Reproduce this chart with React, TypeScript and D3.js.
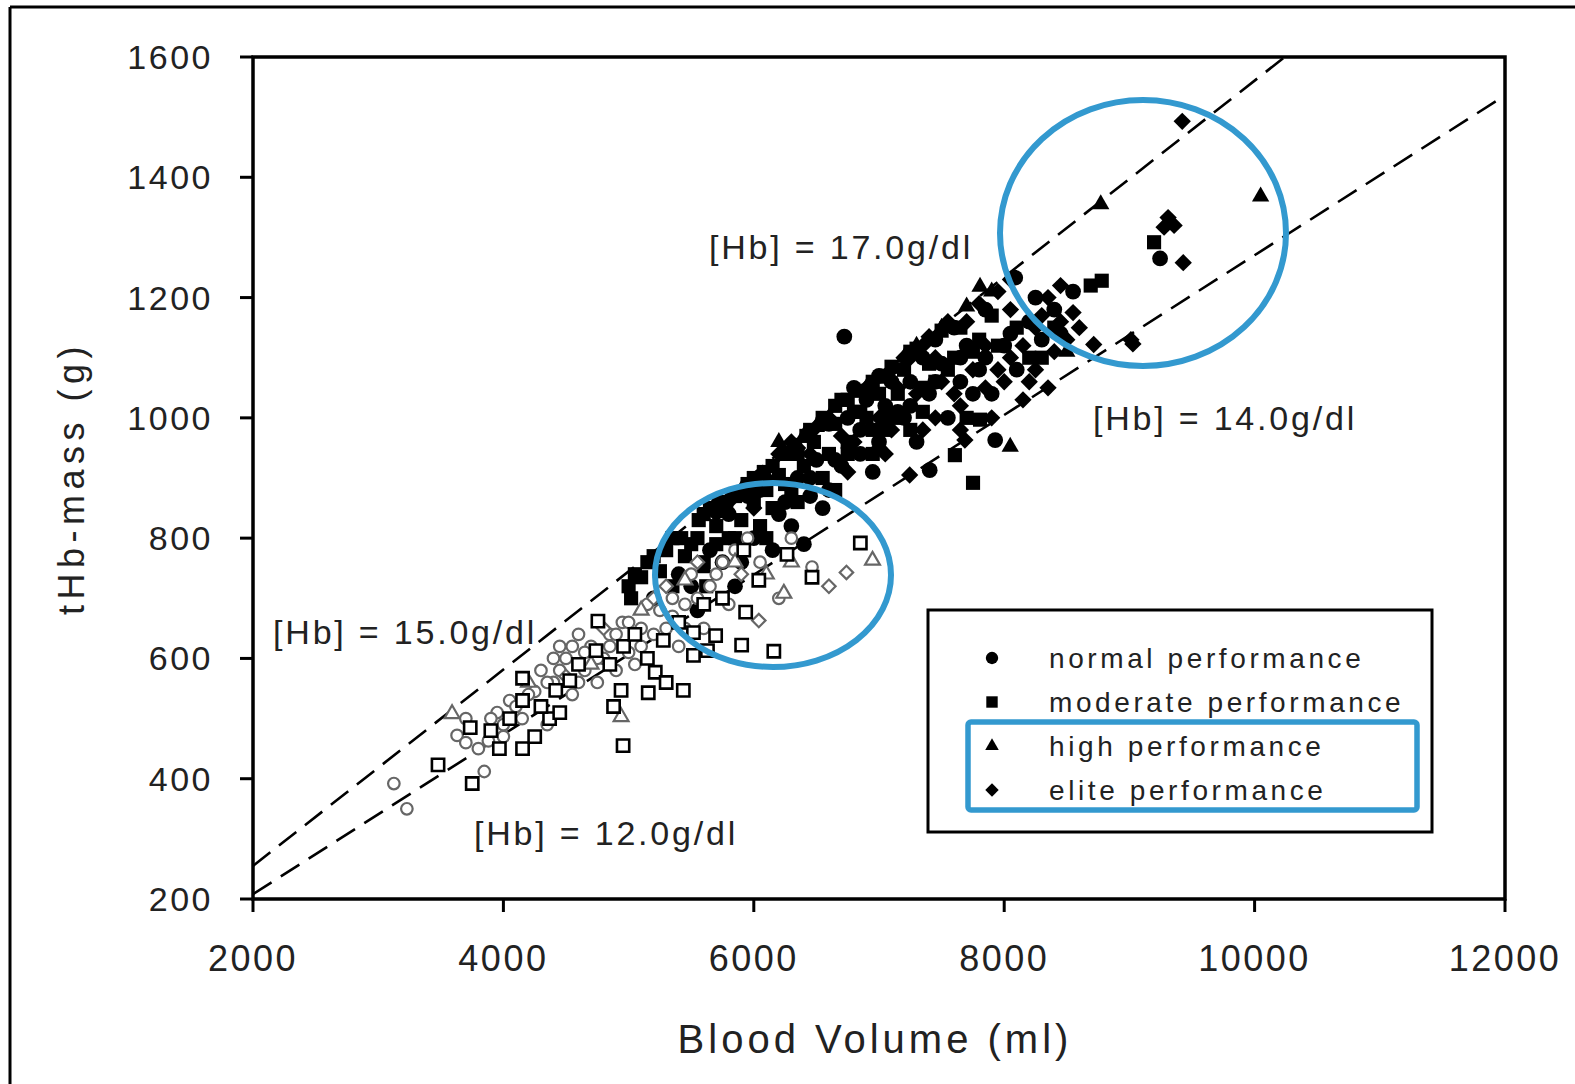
import React from "react";
import * as d3 from "d3";

// ---------- data ----------
const xTicks = [2000, 4000, 6000, 8000, 10000, 12000];
const yTicks = [200, 400, 600, 800, 1000, 1200, 1400, 1600];

// filled symbols (men)
const normalPts: [number, number][] = [
  [5200, 700], [5400, 740], [5500, 720], [5650, 780], [5750, 760], [5900, 760], [6000, 800], [6150, 780],
  [6200, 840], [6300, 820], [6350, 900], [6450, 870], [6500, 930], [6600, 880], [6700, 920], [6723, 1135],
  [6750, 1000], [6850, 940], [6900, 1030], [7000, 960], [7050, 1020], [7100, 1060], [7200, 1000], [7250, 1060],
  [7350, 1100], [7400, 1040], [7500, 1090], [7550, 1000], [7650, 1060], [7700, 1120], [7800, 1080], [7850, 1180],
  [7900, 1040], [8000, 1120], [8088, 1233], [8100, 1080], [8200, 1160], [8300, 1130], [8400, 1180], [9245, 1265],
  [6400, 790], [6550, 850], [5550, 680], [5850, 720], [6950, 910], [7300, 960],
  [5800, 840], [5950, 870], [6050, 880], [6250, 860], [6600, 990], [6800, 1050], [7000, 1070], [7150, 1010],
  [7450, 1130], [7600, 1150], [7750, 1040], [8250, 1200], [8450, 1140], [8550, 1210],
  [6450, 900], [6650, 930], [6850, 980], [7050, 1000], [7250, 1020], [7450, 1060], [7650, 1100], [7850, 1100],
  [8050, 1140], [7405, 913], [7928, 963],
];
const moderatePts: [number, number][] = [
  [5000, 720], [5020, 700], [5100, 735], [5150, 760], [5250, 745], [5300, 780], [5350, 720], [5420, 800],
  [5500, 790], [5560, 830], [5600, 760], [5650, 850], [5700, 820], [5720, 860], [5780, 845], [5800, 800],
  [5850, 870], [5900, 830], [5950, 890], [6000, 860], [6050, 820], [6080, 910], [6100, 880], [6150, 850],
  [6200, 905], [6250, 940], [6300, 880], [6330, 955], [6400, 920], [6420, 970], [6480, 960], [6550, 990],
  [6600, 940], [6650, 990], [6700, 1030], [6750, 960], [6800, 1010], [6850, 1045], [6900, 1000], [6950, 1060],
  [7000, 1040], [7050, 980], [7100, 1085], [7150, 1040], [7200, 1080], [7300, 1115], [7350, 1010], [7450, 1060],
  [7500, 1145], [7600, 1100], [7700, 1000], [7751, 892], [7800, 1130], [7900, 1170], [8100, 1150], [8300, 1100],
  [8691, 1220], [8779, 1228], [9197, 1292], [5620, 720], [5700, 790], [6100, 800],
  [5050, 740], [5200, 770], [5350, 800], [5450, 770], [5550, 800], [5600, 840], [5750, 860], [5850, 800],
  [6000, 900], [6150, 920], [6250, 890], [6350, 940], [6450, 980], [6550, 1000], [6650, 1020], [6750, 1030],
  [6850, 1010], [7050, 1070], [7250, 1110], [7400, 1090], [7650, 1150], [7950, 1120], [8200, 1100], [8400, 1150],
  [6350, 860], [6550, 900], [6750, 940], [6950, 980], [7150, 1000], [7350, 1050], [7550, 1080], [7750, 1110],
  [6650, 880], [6950, 940], [7250, 980], [7606, 938], [7807, 997],
];
const highPts: [number, number][] = [
  [5600, 750], [5700, 860], [6200, 960], [6500, 985], [6900, 1050], [7000, 1065], [7300, 1120], [7500, 1150],
  [7807, 1218], [8048, 952], [8771, 1355], [10048, 1368], [7700, 1185], [8500, 1110], [6400, 970],
  [5900, 880], [6600, 1000], [7200, 1100], [7900, 1210],
];
const elitePts: [number, number][] = [
  [6500, 985], [6600, 1000], [6800, 960], [6900, 1050], [7000, 1000], [7100, 980], [7200, 1100], [7300, 1040],
  [7400, 1135], [7450, 1000], [7550, 1160], [7600, 1040], [7650, 980], [7700, 1160], [7750, 1080], [7850, 1120],
  [7900, 1000], [7950, 1210], [8000, 1060], [8050, 1180], [8150, 1120], [8200, 1060], [8250, 1150], [8350, 1200],
  [8400, 1110], [8450, 1160], [8500, 1130], [8550, 1175], [8715, 1122], [9012, 1130], [9028, 1123], [9309, 1333],
  [9357, 1320], [9277, 1317], [9422, 1493], [9430, 1258], [8350, 1050], [8150, 1030], [7000, 950], [6300, 960],
  [6200, 940], [6100, 900], [5800, 860], [5700, 840],
  [6000, 850], [6350, 950], [6700, 970], [6900, 1040], [7100, 1080], [7250, 1100], [7350, 1120], [7500, 1060],
  [7800, 1190], [7950, 1080], [8050, 1230], [8300, 1170], [8600, 1150], [8450, 1220],
  [6450, 940], [6750, 910], [7050, 940], [7350, 980], [7650, 1020], [7850, 1050], [8050, 1100], [8250, 1080],
  [7150, 1050], [7450, 1100], [7245, 905], [7686, 963],
];

// open symbols (women)
const openSquarePts: [number, number][] = [
  [3478, 423], [3751, 392], [3735, 485], [3968, 450], [4153, 450], [4153, 567], [4153, 530], [4369, 500],
  [4418, 547], [4530, 563], [4739, 613], [4755, 662], [4956, 455], [4940, 547], [5157, 543], [5213, 577],
  [5277, 630], [5437, 547], [5518, 605], [5630, 613], [5695, 638], [5903, 622], [6160, 612], [5518, 643],
  [5920, 780], [5935, 677], [6040, 730], [6265, 773], [6851, 792], [6465, 735], [4300, 520], [4450, 510],
  [4600, 590], [4850, 590], [4960, 620], [5050, 640], [5150, 600], [5300, 560], [5400, 660], [5600, 690],
  [5750, 700], [4880, 520], [4250, 470], [4050, 500], [3900, 480],
];
const openCirclePts: [number, number][] = [
  [3125, 392], [3229, 350], [3847, 412], [3630, 472], [3880, 463], [3700, 500], [3950, 510], [4050, 530],
  [4150, 500], [4250, 545], [4300, 580], [4400, 560], [4500, 600], [4550, 540], [4650, 580], [4700, 620],
  [4750, 560], [4800, 600], [4850, 640], [4900, 580], [4950, 660], [5000, 610], [5050, 590], [5100, 650],
  [5200, 640], [5250, 680], [5350, 700], [5400, 620], [5450, 690], [5500, 740], [5600, 650], [5700, 740],
  [5800, 690], [6465, 752], [6200, 700], [4450, 620], [4600, 640], [4350, 490], [4000, 470], [3800, 450],
  [3700, 460],
  [4100, 520], [4200, 540], [4350, 560], [4450, 580], [4600, 560], [4650, 610], [4750, 600], [4850, 620],
  [4900, 640], [5000, 660], [5100, 620], [5150, 690], [5300, 650], [5350, 670], [5450, 650], [5550, 700],
  [5650, 720], [5750, 760], [5850, 780], [5950, 800], [6050, 760], [6300, 800], [4000, 490], [3900, 500],
  [4400, 600], [4550, 620],
];
const openTrianglePts: [number, number][] = [
  [3590, 508], [4940, 503], [6948, 763], [6240, 708], [4700, 590], [5100, 680], [5450, 730], [5850, 760],
  [6100, 740], [4200, 560], [6300, 760],
];
const openDiamondPts: [number, number][] = [
  [6740, 743], [6040, 663], [5200, 700], [5550, 760], [5900, 740], [4800, 650], [4500, 570], [6600, 720],
  [5300, 720],
];

// [Hb] iso-lines (start / end in data units)
const hbLines = [
  { x1: 2000, y1: 255, x2: 10241, y2: 1600 },
  { x1: 2000, y1: 208, x2: 12000, y2: 1536 },
];
const hbLabels = [
  { text: "[Hb] = 17.0g/dl", x: 5642, y: 1264 },
  { text: "[Hb] = 14.0g/dl", x: 8709, y: 980 },
  { text: "[Hb] = 15.0g/dl", x: 2160, y: 624 },
  { text: "[Hb] = 12.0g/dl", x: 3765, y: 290 },
];
const legendLabels = ["normal performance", "moderate performance", "high performance", "elite performance"];

// ---------- layout ----------
const W = 1575;
const H = 1084;
const L = 253, R = 1505, T = 57, B = 899;
const FONT = "'Liberation Sans', Arial, sans-serif";
const BLUE = "#3399cf";

const xs = d3.scaleLinear().domain([2000, 12000]).range([L, R]);
const ys = d3.scaleLinear().domain([200, 1600]).range([B, T]);

const circ = d3.symbol().type(d3.symbolCircle).size(195)()!;
const sq = d3.symbol().type(d3.symbolSquare).size(200)()!;
const tri = d3.symbol().type(d3.symbolTriangle).size(130)()!;
const dia = d3.symbol().type(d3.symbolSquare).size(150)()!;
const oCirc = d3.symbol().type(d3.symbolCircle).size(105)()!;
const oSq = d3.symbol().type(d3.symbolSquare).size(150)()!;
const oTri = d3.symbol().type(d3.symbolTriangle).size(95)()!;
const oDia = d3.symbol().type(d3.symbolSquare).size(90)()!;

function Marks({ pts, d, fill, stroke, sw, rot }: { pts: [number, number][]; d: string; fill: string; stroke?: string; sw?: number; rot?: boolean }) {
  return (
    <g>
      {pts.map((p, i) => (
        <path
          key={i}
          d={d}
          transform={`translate(${xs(p[0])},${ys(p[1])})${rot ? " rotate(45)" : ""}`}
          fill={fill}
          stroke={stroke || "none"}
          strokeWidth={sw || 0}
        />
      ))}
    </g>
  );
}

export default function App() {
  const legX = 992;
  const legRows = [658, 702, 746, 790];
  const legSyms = [
    { d: d3.symbol().type(d3.symbolCircle).size(120)()!, rot: false },
    { d: d3.symbol().type(d3.symbolSquare).size(130)()!, rot: false },
    { d: d3.symbol().type(d3.symbolTriangle).size(80)()!, rot: false },
    { d: d3.symbol().type(d3.symbolSquare).size(90)()!, rot: true },
  ];
  return (
    <div style={{ position: "fixed", left: 0, top: 0 }}>
      <svg width={W} height={H} style={{ display: "block", background: "#fff" }} fontFamily={FONT}>
        <rect x={0} y={0} width={W} height={H} fill="#fff" />
        {/* outer frame */}
        <line x1={10} y1={7} x2={W} y2={7} stroke="#000" strokeWidth={3} />
        <line x1={10} y1={7} x2={10} y2={H} stroke="#000" strokeWidth={3} />

        {/* iso lines */}
        {hbLines.map((l, i) => (
          <line key={i} x1={xs(l.x1)} y1={ys(l.y1)} x2={xs(l.x2)} y2={ys(l.y2)} stroke="#000" strokeWidth={2.6} strokeDasharray="22 11" />
        ))}

        {/* filled markers */}
        <Marks pts={moderatePts} d={sq} fill="#000" />
        <Marks pts={normalPts} d={circ} fill="#000" />
        <Marks pts={elitePts} d={dia} fill="#000" rot />
        <Marks pts={highPts} d={tri} fill="#000" />

        {/* open markers */}
        <Marks pts={openCirclePts} d={oCirc} fill="#fff" stroke="#666" sw={2.2} />
        <Marks pts={openTrianglePts} d={oTri} fill="#fff" stroke="#666" sw={2.2} />
        <Marks pts={openDiamondPts} d={oDia} fill="#fff" stroke="#666" sw={2.2} rot />
        <Marks pts={openSquarePts} d={oSq} fill="#fff" stroke="#000" sw={2.6} />

        {/* plot frame */}
        <rect x={L} y={T} width={R - L} height={B - T} fill="none" stroke="#000" strokeWidth={3.5} />
        {yTicks.map((t) => (
          <g key={t}>
            <line x1={L - 13} x2={L} y1={ys(t)} y2={ys(t)} stroke="#000" strokeWidth={3} />
            <text x={L - 40} y={ys(t) + 12} textAnchor="end" fontSize={34} letterSpacing={2.5} fill="#222">{t}</text>
          </g>
        ))}
        {xTicks.map((t) => (
          <g key={t}>
            <line x1={xs(t)} x2={xs(t)} y1={B} y2={B + 13} stroke="#000" strokeWidth={3} />
            <text x={xs(t)} y={B + 72} textAnchor="middle" fontSize={36} letterSpacing={2.5} fill="#222">{t}</text>
          </g>
        ))}

        {/* axis titles */}
        <text x={875} y={1053} textAnchor="middle" fontSize={40} letterSpacing={4} fill="#222">Blood Volume (ml)</text>
        <text transform={`translate(84,478) rotate(-90)`} textAnchor="middle" fontSize={36} letterSpacing={5.5} fill="#222">tHb-mass (g)</text>

        {/* Hb labels */}
        {hbLabels.map((l, i) => (
          <text key={i} x={xs(l.x)} y={ys(l.y)} fontSize={34} letterSpacing={2.8} fill="#222">{l.text}</text>
        ))}

        {/* legend */}
        <rect x={928} y={610} width={504} height={222} fill="#fff" stroke="#000" strokeWidth={3} />
        {legendLabels.map((s, i) => (
          <g key={s}>
            <path d={legSyms[i].d} transform={`translate(${legX},${legRows[i]})${legSyms[i].rot ? " rotate(45)" : ""}`} fill="#000" />
            <text x={1049} y={legRows[i] + 10} fontSize={28} letterSpacing={3.6} fill="#222">{s}</text>
          </g>
        ))}
        <rect x={968} y={722} width={449} height={88} rx={3} fill="none" stroke={BLUE} strokeWidth={5.5} />

        {/* highlight ellipses */}
        <ellipse cx={1143} cy={233} rx={143} ry={133} fill="none" stroke={BLUE} strokeWidth={6} />
        <ellipse cx={773} cy={575} rx={118} ry={92} fill="none" stroke={BLUE} strokeWidth={6} />
      </svg>
    </div>
  );
}
